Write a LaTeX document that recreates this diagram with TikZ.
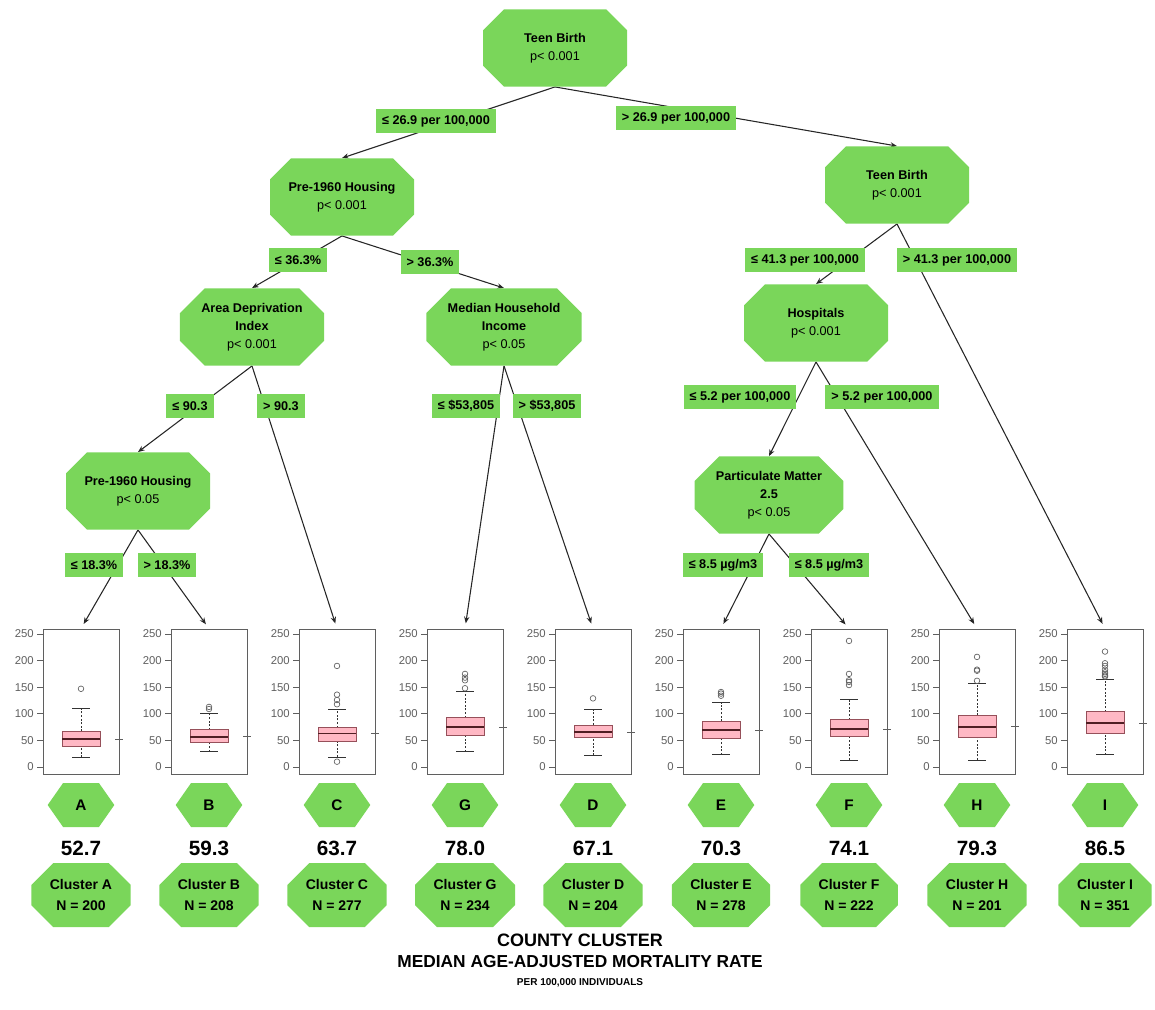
\documentclass[tikz,border=0pt]{standalone}
\usepackage{fontspec}
\setmainfont{Liberation Sans}
\usepackage{tikz}
\usetikzlibrary{arrows.meta}
\usetikzlibrary{shapes.misc}
\usetikzlibrary{shapes.symbols}
\usetikzlibrary{backgrounds}
\definecolor{leaf}{RGB}{122,214,90}
\definecolor{box}{RGB}{255,184,196}
\definecolor{boxline}{RGB}{150,80,90}
\definecolor{medline}{RGB}{80,30,35}
\definecolor{axis}{RGB}{95,95,95}

\begin{document}
\begin{tikzpicture}[x=0.75pt,y=-0.75pt,
    split/.style={chamfered rectangle, chamfered rectangle xsep=15pt, fill=leaf, align=center,
      minimum width=108pt, minimum height=58pt, inner sep=1pt, font=\fontsize{9.5}{13.5}\selectfont},
    cut/.style={fill=leaf, inner xsep=4.5pt, minimum height=18.5pt, font=\bfseries\fontsize{9.5}{11}\selectfont},
    edge/.style={line width=0.8pt, draw=black!85},
    arr/.style={edge, -{Stealth[length=5pt,width=4pt]}},
    tag/.style={signal, signal to=east and west, signal pointer angle=110, fill=leaf,
      minimum width=50pt, minimum height=33pt, inner sep=1pt, font=\bfseries\fontsize{11.5}{13}\selectfont},
    cluster/.style={chamfered rectangle, chamfered rectangle xsep=13pt, fill=leaf, align=center,
      minimum width=70pt, minimum height=48pt, inner sep=1pt, font=\bfseries\fontsize{10.5}{16}\selectfont},
    panel/.style={draw=axis, line width=0.6pt, minimum width=57pt, minimum height=108.75pt, inner sep=0pt},
    tick/.style={text=axis, inner sep=0pt, anchor=east, font=\fontsize{8.5}{9}\selectfont}]
  \useasboundingbox (0,0) rectangle (1155,1009);

  % splits
  \node[split] (t1) at (555,48) {\textbf{Teen Birth}\\p< 0.001};
  \node[split] (h1) at (342,197) {\textbf{Pre-1960 Housing}\\p< 0.001};
  \node[split] (t2) at (897,185) {\textbf{Teen Birth}\\p< 0.001};
  \node[split] (adi) at (252,327) {\textbf{Area Deprivation}\\\textbf{Index}\\p< 0.001};
  \node[split] (mhi) at (504,327) {\textbf{Median Household}\\\textbf{Income}\\p< 0.05};
  \node[split] (hosp) at (816,323) {\textbf{Hospitals}\\p< 0.001};
  \node[split] (h2) at (138,491) {\textbf{Pre-1960 Housing}\\p< 0.05};
  \node[split] (pm) at (769,495) {\textbf{Particulate Matter}\\\textbf{2.5}\\p< 0.05};

  % cut points
  \node[cut] (l1a) at (436,121) {≤ 26.9 per 100,000};
  \node[cut] (l1b) at (676,118) {> 26.9 per 100,000};
  \node[cut] (l2a) at (298,260) {≤ 36.3\%};
  \node[cut] (l2b) at (430,262) {> 36.3\%};
  \node[cut] (l2c) at (805,260) {≤ 41.3 per 100,000};
  \node[cut] (l2d) at (957,260) {> 41.3 per 100,000};
  \node[cut] (l3a) at (190,406) {≤ 90.3};
  \node[cut] (l3b) at (281,406) {> 90.3};
  \node[cut] (l3c) at (466,406) {≤ \$53,805};
  \node[cut] (l3d) at (547,406) {> \$53,805};
  \node[cut] (l3e) at (740,397) {≤ 5.2 per 100,000};
  \node[cut] (l3f) at (882,397) {> 5.2 per 100,000};
  \node[cut] (l4a) at (94,565) {≤ 18.3\%};
  \node[cut] (l4b) at (167,565) {> 18.3\%};
  \node[cut] (l4c) at (723,565) {≤ 8.5 µg/m3};
  \node[cut] (l4d) at (829,565) {≤ 8.5 µg/m3};

  % box plots
  \foreach \n/\i/\lo/\qa/\md/\qb/\hi/\out in {A/0/18/38/52/67/110/{147}, B/1/29/47/57/70/101/{109,113},
      C/2/19/49/63/74/109/{10,118,126,136,190}, G/3/29/59/75/93/143/{148,163,168,175},
      D/4/22/55/66/79/108/{129}, E/5/23/54/69/86/121/{134,138,141},
      F/6/13/58/71/89/128/{154,160,163,175,237}, H/7/13/56/76/97/157/{162,181,183,207},
      I/8/23/63/83/104/165/{170,172,175,178,183,190,195,217}}{
    \node[panel] (p\n) at (81+128*\i,701.5) {};
    \begin{scope}[shift={(43+128*\i,767)}, y=0.399pt]
      \foreach \t in {0,50,...,250}{
        \draw[axis, line width=0.5pt] (-6,\t) -- (0,\t);
        \node[tick] (y\n\t) at (-9,\t) {\t};
      }
      \draw[black!80, line width=0.5pt, dash pattern=on 1.5pt off 1.2pt] (38,\qb) -- (38,\hi) (38,\lo) -- (38,\qa);
      \draw[black!80, line width=0.5pt] (29,\hi) -- (47,\hi) (29,\lo) -- (47,\lo);
      \draw[boxline, fill=box, line width=0.5pt] (19,\qa) rectangle (57,\qb);
      \draw[medline, line width=1.4pt] (19,\md) -- (57,\md);
      \draw[axis, line width=0.5pt] (72,\md) -- (80,\md);
      \foreach \o in \out
        \draw[axis, line width=0.5pt] (38,\o) circle[radius=2.1pt];
    \end{scope}
  }

  % clusters
  \foreach \n/\i/\v/\N in {A/0/52.7/200, B/1/59.3/208, C/2/63.7/277, G/3/78.0/234, D/4/67.1/204,
      E/5/70.3/278, F/6/74.1/222, H/7/79.3/201, I/8/86.5/351}{
    \node[tag] (g\n) at (81+128*\i,805) {\n};
    \node[font=\bfseries\fontsize{15.5}{18}\selectfont] (v\n) at (81+128*\i,848) {\v};
    \node[cluster] (c\n) at (81+128*\i,895) {Cluster \n\\N = \N};
  }

  % edges, behind the cut labels
  \begin{scope}[on background layer]
    \foreach \p/\c in {t1/h1, t1/t2, h1/adi, h1/mhi, t2/hosp, adi/h2, hosp/pm}
      \draw[arr] (\p.south) -- (\c.north);
    \foreach \p/\c in {h2/pA, h2/pB, adi/pC, mhi/pG, mhi/pD, pm/pE, pm/pF, hosp/pH, t2/pI}
      \draw[arr, shorten >=4pt] (\p.south) -- (\c.north);
  \end{scope}

  \node[font=\bfseries\fontsize{13.5}{15}\selectfont] (ttl) at (580,940) {COUNTY CLUSTER};
  \node[font=\bfseries\fontsize{13}{15}\selectfont] (ttl2) at (580,962) {MEDIAN AGE-ADJUSTED MORTALITY RATE};
  \node[font=\bfseries\fontsize{7.5}{9}\selectfont] (ttl3) at (580,983) {PER 100,000 INDIVIDUALS};
\end{tikzpicture}
\end{document}
